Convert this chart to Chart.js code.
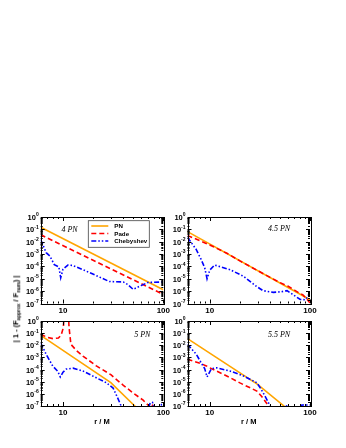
<!DOCTYPE html>
<html>
<head>
<meta charset="utf-8">
<script src="https://cdn.jsdelivr.net/npm/chart.js@4.4.0/dist/chart.umd.min.js"></script>
<style>
  body { margin: 0; background: #fff; width: 346px; height: 448px; position: relative; overflow: hidden; }
  canvas { position: absolute; }
  #ytitle {
    position: absolute; left: 16px; top: 309px;
    transform: translate(-50%, -50%) rotate(-90deg);
    white-space: nowrap; font: bold 7.5px 'Liberation Sans', Arial, sans-serif; color: #000;
  }
  #ytitle sub { font-size: 5px; vertical-align: -1.5px; }
</style>
</head>
<body>
<canvas id="p4" width="175" height="120" style="left:0;top:200px"></canvas>
<canvas id="p45" width="155" height="120" style="left:168px;top:200px"></canvas>
<canvas id="p5" width="175" height="125" style="left:0;top:305px"></canvas>
<canvas id="p55" width="155" height="125" style="left:168px;top:305px"></canvas>
<div id="ytitle">| 1 - (F<sub>approx</sub> / F<sub>num</sub>) |</div>
<script>
// axis ticks
const xTicks = [6, 7, 8, 9, 10, 20, 30, 40, 50, 60, 70, 80, 90, 100];
const xMajor = [10, 100];
const yDecades = [0, -1, -2, -3, -4, -5, -6, -7];
const seriesNames = ['PN', 'Pade', 'Chebyshev'];

// 4 PN  ([r/M, error])
const pn4 = [[6, 0.15], [100, 1.3e-6]];
const pade4 = [[6, 0.036], [100, 5.5e-7]];
const cheb4 = [[6, 0.015], [6.8, 1.3e-3], [7.4, 7e-4], [8.2, 1.4e-4], [9.1, 9e-5], [9.5, 1.2e-5], [10, 6e-5],
  [11.2, 1.3e-4], [12.5, 1.2e-4], [15.8, 5.5e-5], [21.5, 1.8e-5], [29, 6e-6], [40, 5.5e-6], [44, 3.5e-6],
  [50, 1.4e-6], [60, 2.8e-6], [70, 5e-6], [100, 5.5e-6]];

// 4.5 PN
const pn45 = [[6, 0.066], [100, 2e-7]];
const pade45 = [[6, 0.032], [10, 5.5e-3], [15, 1.1e-3], [20, 2.8e-4], [30, 4.6e-5], [40, 1.3e-5], [50, 5e-6],
  [60, 2.6e-6], [70, 1.2e-6], [78, 7e-7], [85, 5e-7], [92, 2.5e-7], [100, 1.1e-7]];
const cheb45 = [[6, 0.022], [7.3, 2.5e-3], [8.2, 3.7e-4], [8.9, 8e-5], [9.4, 1e-5], [10, 5e-5], [11.2, 1.3e-4],
  [15.9, 5.5e-5], [21.7, 1.6e-5], [29.5, 2.3e-6], [34, 1.1e-6], [43, 8e-7], [52, 9e-7], [59, 1.1e-6],
  [66, 6e-7], [80, 2.1e-7], [90, 2e-7], [100, 7.5e-7]];

// 5 PN
const pn5 = [[6, 0.066], [30, 8.3e-6], [52, 1e-7], [60, 3e-8]];
const pade5 = [[6, 0.08], [7, 0.045], [8, 0.035], [9, 0.04], [9.6, 0.07], [10.1, 0.3], [10.4, 20], [11.2, 20],
  [11.5, 0.3], [12, 0.012], [13.5, 4e-3], [15.8, 1.3e-3], [21.5, 2e-4], [30, 3.8e-5], [40, 5e-6],
  [50, 1.2e-6], [63, 3e-7], [72, 1e-7], [74, 5e-8], [76, 6e-8], [79, 1.5e-7], [82, 5e-8]];
const cheb5 = [[6, 0.016], [6.8, 1.8e-3], [7.9, 2e-4], [8.9, 7e-5], [9.4, 2.5e-5], [10, 6e-5], [10.8, 1.1e-4],
  [12.6, 1.3e-4], [15.8, 7.6e-5], [21.5, 2.1e-5], [27, 8.3e-6], [31.6, 3e-6], [34.6, 6e-7], [38, 1e-7],
  [40, 4e-8], [70, 4e-8], [74, 1.8e-7], [78, 2e-7], [82, 5e-8], [92, 5e-8], [96, 1.3e-7], [100, 1.3e-7]];

// 5.5 PN
const pn55 = [[6, 0.035], [30, 6e-6], [55, 1e-7], [60, 4e-8]];
const pade55 = [[6, 7e-4], [8, 3.3e-4], [9.25, 2e-4], [10, 1.4e-4], [15.9, 2.2e-5], [20, 8e-6], [29.5, 1.7e-6],
  [33, 6e-7], [38.7, 1e-7], [42, 4e-8]];
const cheb55 = [[6, 0.012], [7.35, 1.8e-3], [8.2, 3.7e-4], [8.9, 1.2e-4], [9.4, 2.5e-5], [10.4, 1.2e-4],
  [11.7, 1.4e-4], [15.9, 7.6e-5], [21.7, 3e-5], [29.5, 8.3e-6], [32, 3e-6], [35.8, 6e-7], [40, 1e-7],
  [42, 4e-8], [56, 4e-8], [58, 1.2e-7], [61, 4e-8], [80, 4e-8], [83, 1.2e-7], [100, 1.2e-7]];

const FONT = "'Liberation Sans', Arial, sans-serif";
const LINE_STYLES = [
  { borderColor: '#ffa500', borderDash: [], order: 3 },
  { borderColor: '#ff0000', borderDash: [5, 3], order: 2 },
  { borderColor: '#0000ff', borderDash: [5, 2, 1.5, 2, 1.5, 2], order: 1 }
];

function toPoints(pairs) {
  return pairs.map(([x, y]) => ({ x, y }));
}

// frame, inward ticks, y labels, panel label, legend
const panelDeco = {
  id: 'panelDeco',
  afterDraw(chart, args, opts) {
    const { ctx, chartArea: a } = chart;
    const x = chart.scales.x;
    const y = chart.scales.y;
    ctx.save();
    ctx.strokeStyle = '#000';
    ctx.lineWidth = 1;
    ctx.setLineDash([]);
    ctx.beginPath();
    xTicks.forEach(v => {
      const px = Math.round(x.getPixelForValue(v)) + 0.5;
      const len = xMajor.includes(v) ? 4 : 2;
      ctx.moveTo(px, a.bottom); ctx.lineTo(px, a.bottom - len);
      ctx.moveTo(px, a.top); ctx.lineTo(px, a.top + len);
    });
    yDecades.forEach(e => {
      const vals = [[Math.pow(10, e), 4]];
      if (e > -7) for (let m = 2; m <= 9; m++) vals.push([m * Math.pow(10, e - 1), 2]);
      vals.forEach(([v, len]) => {
        const py = Math.round(y.getPixelForValue(v)) + 0.5;
        ctx.moveTo(a.left, py); ctx.lineTo(a.left + len, py);
        ctx.moveTo(a.right, py); ctx.lineTo(a.right - len, py);
      });
    });
    ctx.stroke();
    ctx.strokeRect(Math.round(a.left) + 0.5, Math.round(a.top) + 0.5,
      Math.round(a.right - a.left), Math.round(a.bottom - a.top));

    // y tick labels 10^e
    ctx.fillStyle = '#000';
    ctx.textBaseline = 'middle';
    ctx.textAlign = 'left';
    yDecades.forEach(e => {
      const py = y.getPixelForValue(Math.pow(10, e));
      const ex = String(e);
      ctx.font = `bold 5px ${FONT}`;
      const ew = ctx.measureText(ex).width;
      ctx.font = `bold 7.5px ${FONT}`;
      const bw = ctx.measureText('10').width;
      const right = a.left - 2;
      ctx.fillText('10', right - ew - bw, py + 1);
      ctx.font = `bold 5px ${FONT}`;
      ctx.fillText(ex, right - ew, py - 2);
    });

    // panel label
    if (opts.label) {
      ctx.font = `italic 8px 'Liberation Serif', 'Times New Roman', serif`;
      ctx.textAlign = 'center';
      const lx = opts.fromRight ? a.right + opts.dx : a.left + opts.dx;
      ctx.fillText(opts.label, lx, a.top + opts.dy);
    }

    // legend box
    if (opts.legend) {
      const bx = a.left + 47.6, by = a.top + 3.7, bw = 61, bh = 26.6;
      ctx.strokeStyle = '#444';
      ctx.lineWidth = 0.8;
      ctx.strokeRect(bx, by, bw, bh);
      ctx.font = `bold 6.2px ${FONT}`;
      ctx.textAlign = 'left';
      chart.data.datasets.forEach((ds, i) => {
        const ly = by + 5.3 + i * 7.5;
        ctx.strokeStyle = ds.borderColor;
        ctx.lineWidth = 1.6;
        ctx.setLineDash(ds.borderDash);
        ctx.beginPath();
        ctx.moveTo(bx + 3, ly); ctx.lineTo(bx + 20, ly);
        ctx.stroke();
        ctx.setLineDash([]);
        ctx.fillStyle = '#000';
        ctx.fillText(ds.label, bx + 26, ly + 0.5);
      });
    }
    ctx.restore();
  }
};

function makePanel(id, series, cfg) {
  const datasets = series.map((s, i) => ({
    label: seriesNames[i],
    ...LINE_STYLES[i],
    data: toPoints(s),
    borderWidth: 1.6,
    pointRadius: 0,
    fill: false,
    tension: 0,
    clip: 0
  }));
  return new Chart(document.getElementById(id), {
    type: 'line',
    data: { datasets },
    options: {
      responsive: false,
      animation: false,
      events: [],
      layout: { padding: cfg.padding },
      plugins: {
        legend: { display: false },
        tooltip: { enabled: false },
        panelDeco: cfg.deco
      },
      scales: {
        x: {
          type: 'logarithmic', min: 6, max: 100,
          afterBuildTicks: s => { s.ticks = xTicks.map(v => ({ value: v })); },
          afterFit: s => { s.height = cfg.xHeight; },
          grid: { display: false, drawTicks: false },
          border: { display: false },
          ticks: {
            autoSkip: false, maxRotation: 0, padding: 2, color: '#000',
            font: { family: FONT, size: 8, weight: 'bold' },
            callback: v => xMajor.includes(v) ? String(v) : ''
          },
          title: {
            display: !!cfg.xTitle, text: 'r / M', color: '#000',
            font: { family: FONT, size: 7.5, weight: 'bold' },
            padding: { top: 0, bottom: 4 }
          }
        },
        y: { type: 'logarithmic', min: 1e-7, max: 1, display: false }
      }
    },
    plugins: [panelDeco]
  });
}

makePanel('p4', [pn4, pade4, cheb4], {
  padding: { left: 40.7, top: 17, right: 11.7, bottom: 0 }, xHeight: 16.5,
  deco: { label: '4 PN', dx: 28.8, dy: 12.5, legend: true }
});
makePanel('p45', [pn45, pade45, cheb45], {
  padding: { left: 19.5, top: 17, right: 13, bottom: 0 }, xHeight: 16.5,
  deco: { label: '4.5 PN', fromRight: true, dx: -31, dy: 12 }
});
makePanel('p5', [pn5, pade5, cheb5], {
  padding: { left: 40.7, top: 16, right: 11.7, bottom: 0 }, xHeight: 24, xTitle: true,
  deco: { label: '5 PN', fromRight: true, dx: -21, dy: 14 }
});
makePanel('p55', [pn55, pade55, cheb55], {
  padding: { left: 19.5, top: 16, right: 13, bottom: 0 }, xHeight: 24, xTitle: true,
  deco: { label: '5.5 PN', fromRight: true, dx: -31, dy: 14 }
});
</script>
</body>
</html>
